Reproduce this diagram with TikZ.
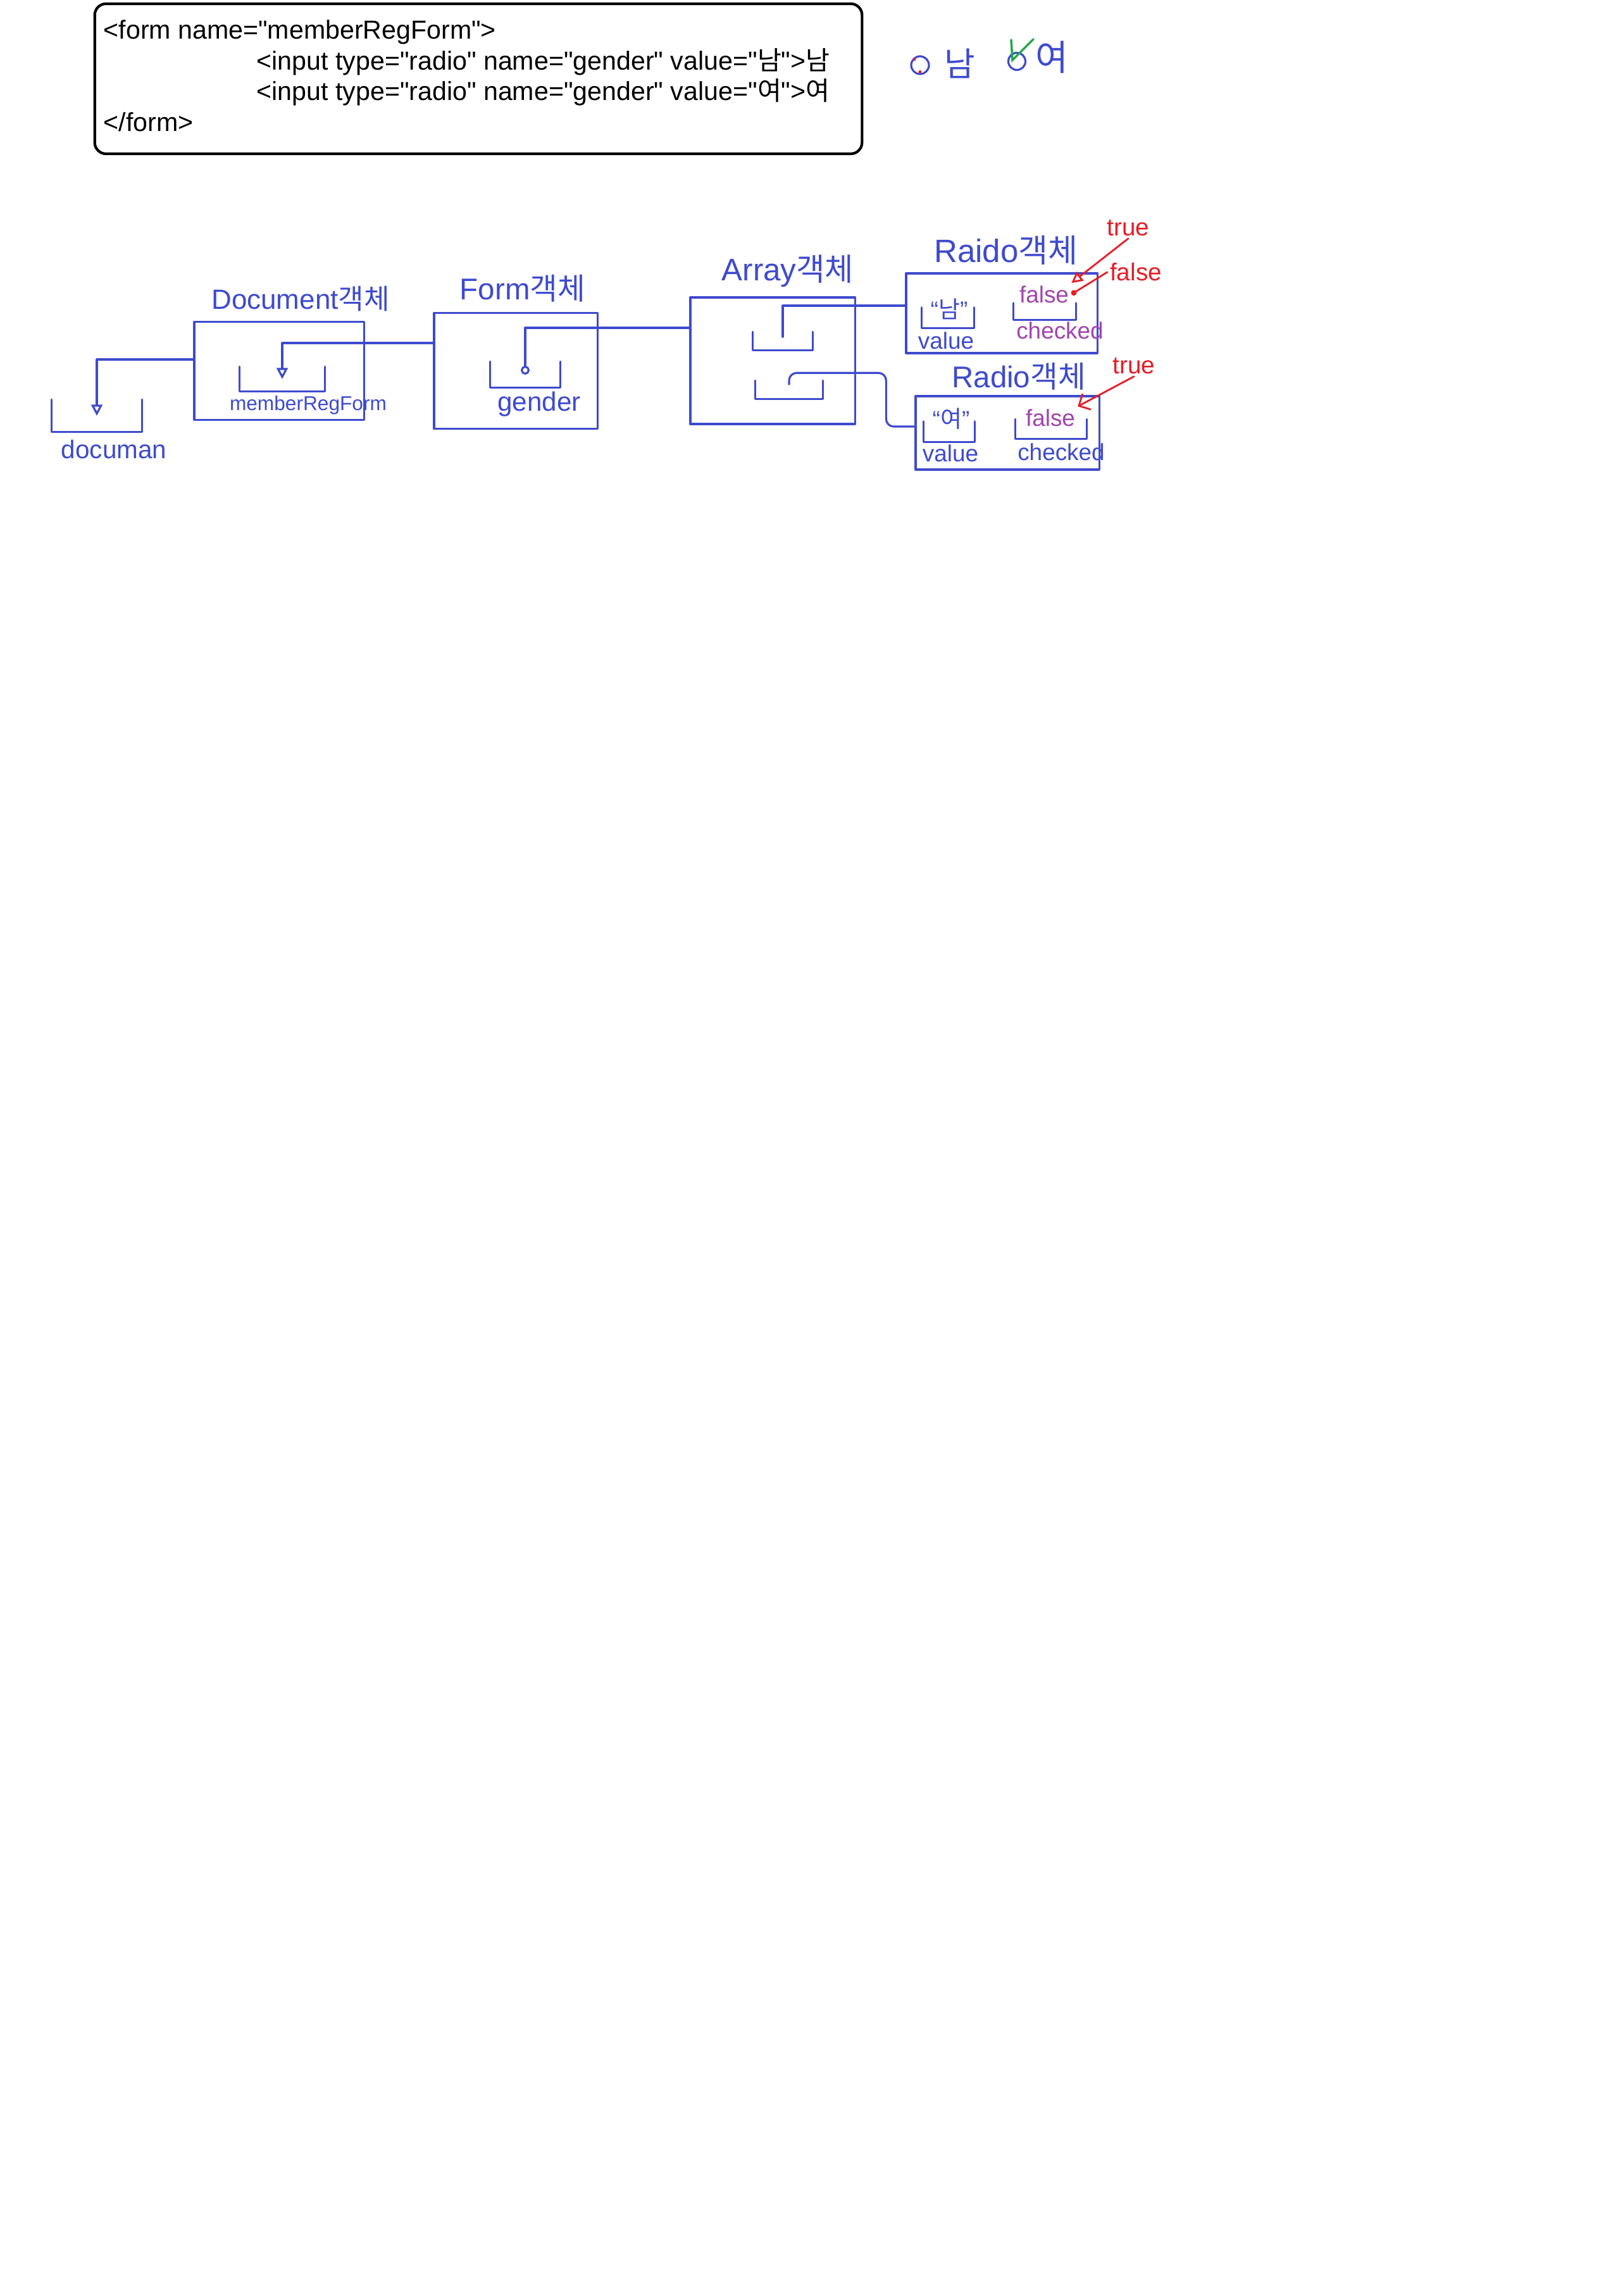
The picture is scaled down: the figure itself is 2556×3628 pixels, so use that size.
\documentclass[tikz,border=0pt]{standalone}
\usepackage{fontspec}
\setmainfont{Liberation Sans}
\newfontfamily\codefont{Liberation Sans}[Ligatures=TeXOff]
\newfontfamily\kr{Noto Sans CJK KR}
\usetikzlibrary{arrows.meta}
\definecolor{pen}{RGB}{62,74,206}
\definecolor{penpurple}{RGB}{160,68,172}
\definecolor{penred}{RGB}{232,28,36}
\definecolor{pengreen}{RGB}{34,168,72}
\newcommand{\gc}{{\kr 객체}}
\tikzset{
  hand/.style={
    draw=pen,
    line width=0.9pt,
    line cap=round,
    line join=round
  },
  objbox/.style={
    hand,
    inner sep=0pt
  },
  slot/.style={
    inner sep=0pt
  },
  title/.style={
    text=pen,
    font=\fontsize{12.5}{14}\selectfont,
    inner sep=1pt
  },
  lbl/.style={
    text=pen,
    font=\fontsize{10.5}{12}\selectfont,
    inner sep=1pt
  },
  flag/.style={
    text=penpurple,
    font=\fontsize{10.5}{12}\selectfont,
    inner sep=1pt
  },
  fix/.style={
    text=penred,
    font=\fontsize{11}{12}\selectfont,
    inner sep=1pt
  },
  fixline/.style={
    draw=penred,
    line width=0.8pt,
    line cap=round
  },
  ptr/.style={
    hand,
    -{Triangle[open,length=5pt,width=5pt]}
  },
  codeline/.style={
    anchor=base west,
    inner sep=0pt,
    font=\codefont\fontsize{11.7}{13}\selectfont
  },
}
\begin{document}
\begin{tikzpicture}[x=0.01cm,y=-0.01cm]
    \useasboundingbox (0,0) rectangle (2556,3628);
    % the html source
    \node[draw,line width=1.2pt,rounded corners=0.18cm,minimum width=12.12cm,minimum height=2.37cm] (code) at (756,124.5) {};
    \node[codeline] (lineA) at (163,62) {<form name="memberRegForm">};
    \node[codeline] (lineB) at (405,111) {<input type="radio" name="gender" value="{\kr 남}">{\kr 남}};
    \node[codeline] (lineC) at (405,159) {<input type="radio" name="gender" value="{\kr 여}">{\kr 여}};
    \node[codeline] (lineD) at (163,208) {</form>};
    % what the browser shows
    \node[circle,hand,minimum size=0.28cm,inner sep=0pt] (optA) at (1454,103) {};
    \fill[penred] ([yshift=0.05cm]optA.south) circle (0.025cm);
    \draw[fixline] ([xshift=-0.08cm,yshift=-0.04cm]optA.north) -- ++(0,4);
    \node[title,font=\fontsize{15}{16}\selectfont] (optAtxt) at (1517,100) {\kr 남};
    \node[circle,hand,minimum size=0.27cm,inner sep=0pt] (optB) at (1607,97) {};
    \draw[draw=pengreen,line width=1pt,line cap=round] ([xshift=-0.09cm,yshift=0.34cm]optB.center) -- ([xshift=-0.07cm,yshift=0.02cm]optB.center) -- ([xshift=0.26cm,yshift=0.35cm]optB.center);
    \node[title,font=\fontsize{16}{17}\selectfont] (optBtxt) at (1662,90) {\kr 여};
    % objects in memory
    \node[objbox,minimum width=2.68cm,minimum height=1.55cm] (docobj) at (441,586) {};
    \node[title] at (475,472) {Document\gc};
    \node[objbox,minimum width=2.58cm,minimum height=1.83cm] (formobj) at (815,586) {};
    \node[title,font=\fontsize{13.5}{15}\selectfont] at (826,456) {Form\gc};
    \node[objbox,minimum width=2.60cm,minimum height=2.00cm] (arrobj) at (1221,570) {};
    \node[title,font=\fontsize{14}{15}\selectfont] at (1245,428) {Array\gc};
    \node[objbox,minimum width=3.02cm,minimum height=1.26cm] (radioA) at (1583,495) {};
    \node[title,font=\fontsize{14.5}{16}\selectfont] at (1590,395) {Raido\gc};
    \node[objbox,minimum width=2.90cm,minimum height=1.16cm] (radioB) at (1592,684) {};
    \node[title,font=\fontsize{13.5}{15}\selectfont] at (1610,595) {Radio\gc};
    % variables and fields
    \node[slot,minimum width=1.41cm,minimum height=0.50cm] (docvar) at (153,657) {};
    \node[lbl,font=\fontsize{11.5}{13}\selectfont] at (180,710) {documan};
    \node[slot,minimum width=1.34cm,minimum height=0.38cm] (mrfvar) at (446,599) {};
    \node[lbl,font=\fontsize{9}{10}\selectfont] at (487,640) {memberRegForm};
    \node[slot,minimum width=1.09cm,minimum height=0.40cm] (genvar) at (830,592) {};
    \node[lbl,font=\fontsize{12}{13}\selectfont] at (852,639) {gender};
    \node[slot,minimum width=0.94cm,minimum height=0.28cm] (elemA) at (1237,539) {};
    \node[slot,minimum width=1.05cm,minimum height=0.28cm] (elemB) at (1247,616) {};
    \node[slot,minimum width=0.81cm,minimum height=0.31cm] (valA) at (1498,502) {};
    \node[lbl] at (1500,488) {“{\kr 남}”};
    \node[lbl] at (1495,538) {value};
    \node[slot,minimum width=0.98cm,minimum height=0.25cm] (chkA) at (1651,492) {};
    \node[flag] (chkAval) at (1650,465) {false};
    \node[flag] at (1675,522) {checked};
    \node[slot,minimum width=0.80cm,minimum height=0.31cm] (valB) at (1500,682) {};
    \node[lbl] at (1503,662) {“{\kr 여}”};
    \node[lbl] at (1502,716) {value};
    \node[slot,minimum width=1.12cm,minimum height=0.30cm] (chkB) at (1661,678) {};
    \node[flag] (chkBval) at (1660,660) {false};
    \node[lbl] at (1677,714) {checked};
    \foreach \n in {docvar,mrfvar,genvar,elemA,elemB,valA,chkA,valB,chkB}{
      \draw[hand] (\n.north west) |- (\n.south east) -- (\n.north east);
    }
    % references
    \draw[ptr] ([yshift=0.18cm]docobj.west) -| (docvar.center);
    \draw[ptr] ([yshift=0.44cm]formobj.west) -| (mrfvar.center);
    \draw[hand,-{Circle[open,length=4pt]}] ([yshift=0.52cm]arrobj.west) -| (genvar.center);
    \draw[hand] ([yshift=0.12cm]radioA.west) -| ([yshift=-0.08cm]elemA.north);
    \draw[hand,rounded corners=0.12cm] ([yshift=0.1cm]radioB.west) -- ++(-45,0) |- ([yshift=0.12cm]elemB.north) -- ([yshift=-0.06cm]elemB.north);
    % corrections
    \node[fix] (trueA) at (1783,360) {true};
    \draw[fixline,-{Triangle[open,length=5pt,width=5pt]}] (trueA.south) -- (chkAval.north east);
    \node[fix] (falseA) at (1795,430) {false};
    \draw[fixline,-{Circle[length=2.5pt]}] (falseA.west) -- (chkAval.east);
    \node[fix] (trueB) at (1792,578) {true};
    \draw[fixline,-{Straight Barb[length=4pt]}] (trueB.south) -- (chkBval.north east);
\end{tikzpicture}
\end{document}
